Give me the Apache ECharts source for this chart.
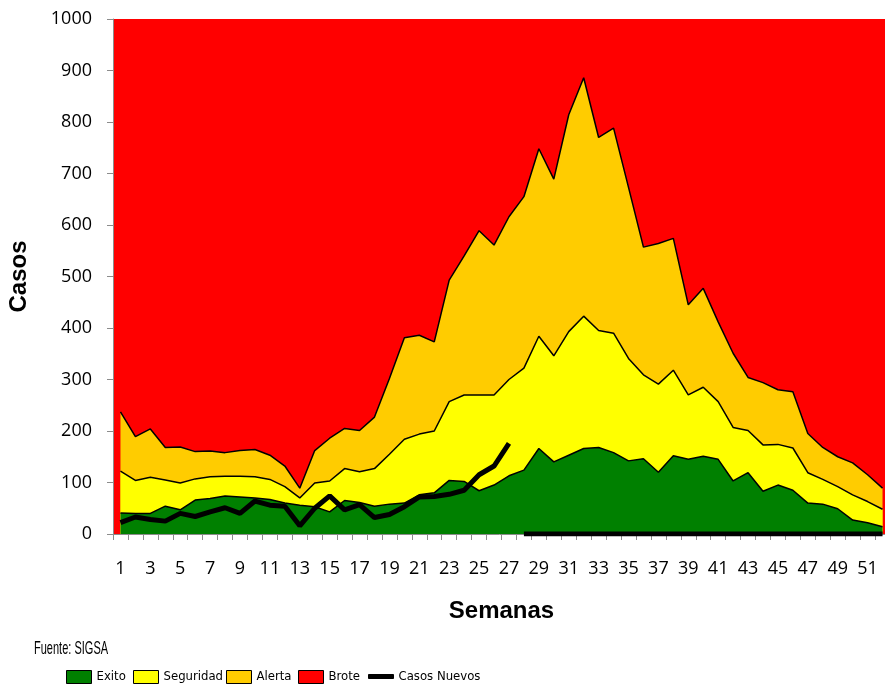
<!DOCTYPE html>
<html lang="es">
<head>
<meta charset="UTF-8">
<title>Casos por semana</title>
<script src="https://cdn.jsdelivr.net/npm/echarts@6/dist/echarts.min.js"></script>
<style>
  body, html { margin: 0; padding: 0; background: #fff; }
  #main { width: 885px; height: 687px; }
</style>
</head>
<body>
<div id="main"></div>
<script>
// semanas epidemiologicas 1..52
const semanas = [];
for (let i = 1; i <= 52; i++) semanas.push(String(i));

// limites del canal endemico (valor superior de cada zona)
const exito = [41, 40, 40, 54, 47, 66, 69, 74, 72, 70, 67, 60, 56, 53, 43, 65, 61, 54, 58, 60,
  76, 80, 104, 102, 84, 95, 113, 124, 166, 140, 153, 166, 168, 158, 142, 146, 120, 152, 145, 151,
  145, 103, 119, 83, 95, 85, 60, 58, 49, 27, 22, 14];
const seguridad = [122, 104, 110, 105, 99, 107, 111, 112, 112, 111, 106, 92, 70, 99, 103, 127, 121, 127, 155, 184,
  194, 200, 257, 270, 270, 270, 300, 322, 384, 346, 393, 423, 395, 390, 341, 309, 291, 318, 270, 285,
  257, 207, 201, 173, 174, 167, 119, 106, 92, 76, 63, 48];
const alerta = [237, 189, 204, 168, 169, 160, 161, 158, 162, 164, 153, 132, 89, 162, 186, 205, 201, 227, 302, 381,
  386, 373, 493, 540, 589, 561, 616, 655, 748, 689, 814, 886, 770, 788, 673, 557, 564, 574, 445, 477,
  412, 351, 304, 294, 280, 276, 195, 168, 150, 138, 115, 89];
const brote = semanas.map(() => 1000);

// casos nuevos (semanas 28+ sin datos = 0)
const casosNuevos = [22, 33, 28, 25, 40, 34, 43, 51, 40, 64, 56, 54, 16, 50, 74, 47, 57, 32, 38, 53,
  72, 73, 77, 85, 115, 132, 176, 0, 0, 0, 0, 0, 0, 0, 0, 0, 0, 0, 0, 0,
  0, 0, 0, 0, 0, 0, 0, 0, 0, 0, 0, 0];
const ultimaSemana = 27;

const yTicks = { min: 0, max: 1000, interval: 100 };

const chart = echarts.init(document.getElementById('main'));

const band = (name, data, color, z) => ({
  name: name,
  type: 'line',
  data: data,
  z: z,
  symbol: 'none',
  color: color,
  itemStyle: { color: color },
  lineStyle: { color: '#000', width: name === 'Brote' ? 0 : 1.5 },
  areaStyle: { color: color, opacity: 1 }
});

const casosLine = (data) => ({
  name: 'Casos Nuevos', type: 'line', z: 5, symbol: 'none', color: '#000',
  itemStyle: { color: '#000' },
  lineStyle: { color: '#000', width: 5 },
  data: data
});

// one legend per item so the boxes sit where the original has them
const legendItem = (name, left, icon) => ({
  left: left, top: 670, padding: 0,
  itemWidth: 25, itemHeight: 13,
  selectedMode: false,
  itemStyle: { borderColor: '#000', borderWidth: 1 },
  textStyle: { fontFamily: 'DejaVu Sans Condensed', fontSize: 13, color: '#000' },
  data: [{ name: name, icon: icon || 'rect' }]
});

const grey = '#8c8c8c';
const labelFont = { fontFamily: 'Open Sans', fontSize: 18, color: '#000' };
const titleFont = { fontFamily: 'Liberation Sans', fontWeight: 'bold', fontSize: 24, color: '#000' };

chart.setOption({
  animation: false,
  grid: {
    left: 113, right: -5, top: 19, bottom: 153,
    containLabel: false, outerBoundsMode: 'none',
    show: true, backgroundColor: '#FF0000', borderWidth: 0
  },
  legend: [
    legendItem('Exito', 66),
    legendItem('Seguridad', 133),
    legendItem('Alerta', 226),
    legendItem('Brote', 298),
    legendItem('Casos Nuevos', 368, 'path://M0,0 H25 V4 H0 Z')
  ],
  graphic: [{
    type: 'text', x: 34, y: 639, scaleX: 0.58,
    style: {
      text: 'Fuente: SIGSA', fill: '#000', verticalAlign: 'top',
      fontFamily: 'Liberation Sans', fontSize: 19
    }
  }],
  xAxis: {
    type: 'category',
    data: semanas,
    boundaryGap: true,
    name: 'Semanas',
    nameLocation: 'middle',
    nameGap: 65,
    nameTextStyle: titleFont,
    axisLine: { show: true, lineStyle: { color: grey, width: 1 } },
    axisTick: { show: true, interval: 0, length: 6, lineStyle: { color: grey } },
    axisLabel: Object.assign({ interval: 1, margin: 26 }, labelFont),
    splitLine: { show: false }
  },
  yAxis: {
    type: 'value',
    min: yTicks.min, max: yTicks.max, interval: yTicks.interval,
    name: 'Casos',
    nameLocation: 'middle',
    nameGap: 82,
    nameTextStyle: titleFont,
    axisLine: { show: true, lineStyle: { color: grey, width: 1 } },
    axisTick: { show: true, length: 6, lineStyle: { color: grey } },
    axisLabel: Object.assign({ margin: 21, formatter: (v) => String(v) }, labelFont),
    splitLine: { show: false }
  },
  series: [
    band('Brote', brote, '#FF0000', 1),
    band('Alerta', alerta, '#FFCC00', 2),
    band('Seguridad', seguridad, '#FFFF00', 3),
    band('Exito', exito, '#008000', 4),
    casosLine(casosNuevos.map((v, i) => (i < ultimaSemana ? v : null))),
    casosLine(casosNuevos.map((v, i) => (i >= ultimaSemana ? v : null)))
  ]
});
</script>
</body>
</html>
